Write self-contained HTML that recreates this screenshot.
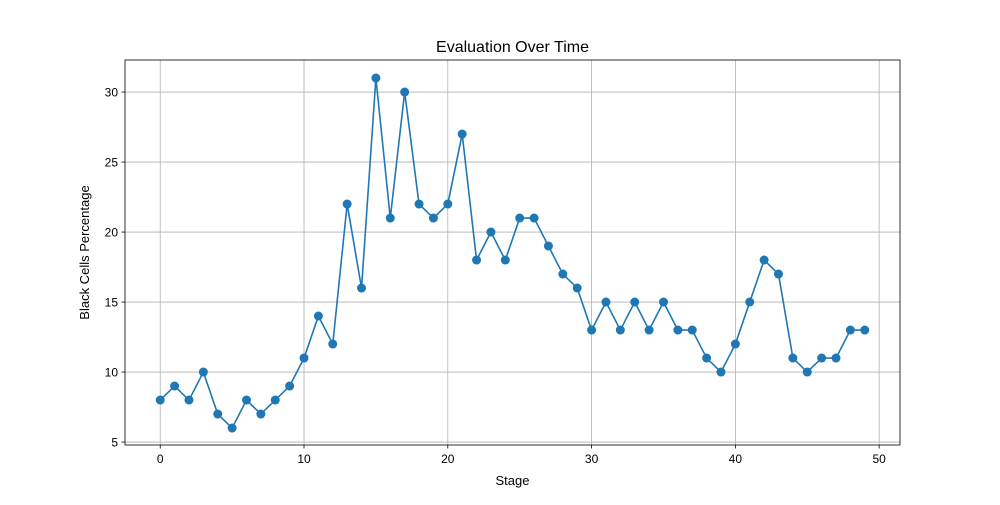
<!DOCTYPE html>
<html><head><meta charset="utf-8"><style>
html,body{margin:0;padding:0;background:#fff;}
svg text{font-family:"Liberation Sans","DejaVu Sans",sans-serif;}
</style></head><body>
<svg id="chart" width="1000" height="500" xmlns="http://www.w3.org/2000/svg"></svg>
<script>
const stages = [0,1,2,3,4,5,6,7,8,9,10,11,12,13,14,15,16,17,18,19,20,21,22,23,24,25,26,27,28,29,30,31,32,33,34,35,36,37,38,39,40,41,42,43,44,45,46,47,48,49];
const blackPct = [8,9,8,10,7,6,8,7,8,9,11,14,12,22,16,31,21,30,22,21,22,27,18,20,18,21,21,19,17,16,13,15,13,15,13,15,13,13,11,10,12,15,18,17,11,10,11,11,13,13];
const xTicks = [0,10,20,30,40,50];
const yTicks = [5,10,15,20,25,30];

const L=125,R=900,T=60,B=445;
const xMin=-2.45,xMax=51.45,yMin=4.79,yMax=32.29;
const sx=v=>L+(v-xMin)/(xMax-xMin)*(R-L);
const sy=v=>B-(v-yMin)/(yMax-yMin)*(B-T);
const svg=document.getElementById('chart');
const NS='http://www.w3.org/2000/svg';
function mk(tag,attrs,parent){const e=document.createElementNS(NS,tag);for(const k in attrs)e.setAttribute(k,attrs[k]);(parent||svg).appendChild(e);return e;}

xTicks.forEach(t=>{
  const g=mk('line',{x1:sx(t),x2:sx(t),y1:T,y2:B,stroke:'#b0b0b0','stroke-width':0.8});
  
  
  mk('line',{x1:sx(t),x2:sx(t),y1:B,y2:B+3.5,stroke:'#000','stroke-width':0.8});
  const tx=mk('text',{x:sx(t),y:B+18,'text-anchor':'middle','font-size':12,fill:'#000'});
  tx.textContent=t;
  
  
});
yTicks.forEach(t=>{
  const g=mk('line',{x1:L,x2:R,y1:sy(t),y2:sy(t),stroke:'#b0b0b0','stroke-width':0.8});
  
  
  mk('line',{x1:L-3.5,x2:L,y1:sy(t),y2:sy(t),stroke:'#000','stroke-width':0.8});
  const tx=mk('text',{x:L-7,y:sy(t)+4.5,'text-anchor':'end','font-size':12,fill:'#000'});
  tx.textContent=t;
  
  
});

const pts=stages.map((s,i)=>sx(s).toFixed(2)+','+sy(blackPct[i]).toFixed(2)).join(' ');
const line=mk('polyline',{points:pts,fill:'none',stroke:'#1f77b4','stroke-width':1.6});


stages.forEach((s,i)=>{
  const c=mk('circle',{cx:sx(s),cy:sy(blackPct[i]),r:4.5,fill:'#1f77b4'});
  
  
});

const frame=mk('rect',{x:L,y:T,width:R-L,height:B-T,fill:'none',stroke:'#000','stroke-width':0.8});



const title=mk('text',{x:(L+R)/2,y:52,'text-anchor':'middle','font-size':16,fill:'#000'});
title.textContent='Evaluation Over Time';


const xl=mk('text',{x:(L+R)/2,y:485,'text-anchor':'middle','font-size':13,fill:'#000'});
xl.textContent='Stage';


const yl=mk('text',{x:0,y:0,'text-anchor':'middle','font-size':13,fill:'#000',transform:`translate(89,${(T+B)/2}) rotate(-90)`});
yl.textContent='Black Cells Percentage';


</script>
</body></html>
